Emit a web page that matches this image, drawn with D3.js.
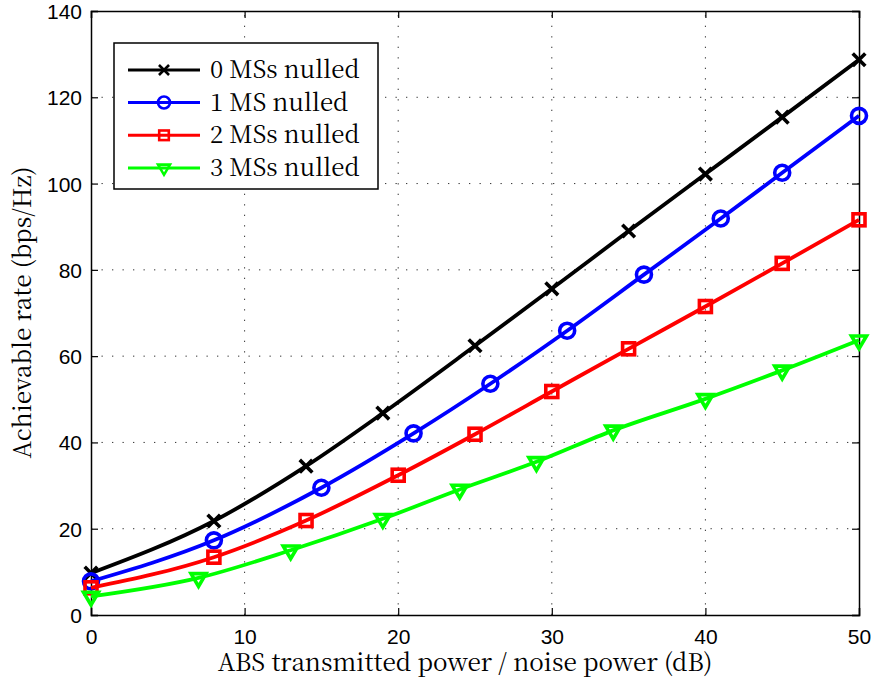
<!DOCTYPE html>
<html><head><meta charset="utf-8">
<script src="https://cdn.jsdelivr.net/npm/d3@7"></script>
<style>body{margin:0;background:#fff}</style>
</head><body>
<svg id="c" width="874" height="681"></svg>
<script>
const xTicks = [0, 10, 20, 30, 40, 50];
const yTicks = [0, 20, 40, 60, 80, 100, 120, 140];
const seriesNames = ["0 MSs nulled", "1 MS nulled", "2 MSs nulled", "3 MSs nulled"];
const seriesColors = ["#000000", "#0000ff", "#ff0000", "#00ff00"];
const seriesMarkers = ["x", "circle", "square", "triangle"];
const x0 = [0, 8, 14, 19, 25, 30, 35, 40, 45, 50];
const y0 = [9.7, 21.8, 34.5, 46.8, 62.4, 75.6, 89.0, 102.2, 115.4, 128.7];
const x1 = [0, 8, 15, 21, 26, 31, 36, 41, 45, 50];
const y1 = [7.8, 17.3, 29.5, 42.1, 53.6, 65.9, 78.9, 91.9, 102.5, 115.7];
const x2 = [0, 8, 14, 20, 25, 30, 35, 40, 45, 50];
const y2 = [6.3, 13.4, 21.9, 32.4, 41.9, 51.8, 61.7, 71.5, 81.5, 91.6];
const x3 = [0, 7, 13, 19, 24, 29, 34, 40, 45, 50];
const y3 = [4.3, 8.6, 15.0, 22.3, 29.1, 35.5, 42.8, 50.1, 56.7, 63.7];
const xLabel = "ABS transmitted power / noise power (dB)";
const yLabel = "Achievable rate (bps/Hz)";

const seriesX = [x0, x1, x2, x3];
const seriesY = [y0, y1, y2, y3];

const SERIF = '"Noto Serif CJK SC", "Liberation Serif", serif';
const SANS = '"Liberation Sans", Arial, sans-serif';

const svg = d3.select("#c");
const L = 91, R = 859, T = 11, B = 615;
const x = d3.scaleLinear().domain([0, 50]).range([L, R]);
const y = d3.scaleLinear().domain([0, 140]).range([B, T]);

// grid
const grid = svg.append("g");
grid.selectAll("line.gx").data(xTicks.filter(d => d > 0 && d < 50)).enter().append("line")
  .attr("x1", d => x(d)).attr("x2", d => x(d)).attr("y1", B).attr("y2", T)
  .attr("stroke", "#333").attr("stroke-width", 1).attr("stroke-dasharray", "1.3,9.2");
grid.selectAll("line.gy").data(yTicks.filter(d => d > 0 && d < 140)).enter().append("line")
  .attr("y1", d => y(d)).attr("y2", d => y(d)).attr("x1", L).attr("x2", R)
  .attr("stroke", "#333").attr("stroke-width", 1).attr("stroke-dasharray", "1.3,9.2");

// axes
const tickLen = 7;
const gxB = svg.append("g").attr("transform", `translate(0,${B})`)
  .call(d3.axisBottom(x).tickValues(xTicks).tickSize(-tickLen).tickPadding(15).tickFormat(d3.format("d")));
const gxT = svg.append("g").attr("transform", `translate(0,${T})`)
  .call(d3.axisTop(x).tickValues(xTicks).tickSize(-tickLen).tickFormat(""));
const gyL = svg.append("g").attr("transform", `translate(${L},0)`)
  .call(d3.axisLeft(y).tickValues(yTicks).tickSize(-tickLen).tickPadding(9).tickFormat(d3.format("d")));
const gyR = svg.append("g").attr("transform", `translate(${R},0)`)
  .call(d3.axisRight(y).tickValues(yTicks).tickSize(-tickLen).tickFormat(""));
[gxB, gxT, gyL, gyR].forEach(g => {
  g.select(".domain").attr("stroke", "#000").attr("stroke-width", 1.5);
  g.selectAll(".tick line").attr("stroke", "#000").attr("stroke-width", 1.2);
  g.selectAll("text").style("font-family", SANS).style("font-size", "21px").attr("fill", "#000");
});
gyL.selectAll(".tick text").attr("dy", "0.36em");
gxB.selectAll(".tick text").attr("dy", "0.68em");

// lines
const line = d3.line().x(d => x(d[0])).y(d => y(d[1])).curve(d3.curveMonotoneX);

function marker(g, type, color, size, sw) {
  if (type === "x") {
    const s = size * 0.42;
    g.append("path").attr("d", `M${-s},${-s}L${s},${s}M${-s},${s}L${s},${-s}`)
      .attr("stroke", color).attr("stroke-width", sw).attr("fill", "none");
  } else if (type === "circle") {
    g.append("circle").attr("r", size * 0.5).attr("stroke", color).attr("stroke-width", sw).attr("fill", "none");
  } else if (type === "square") {
    const s = size * 0.4;
    g.append("rect").attr("x", -s).attr("y", -s).attr("width", 2 * s).attr("height", 2 * s)
      .attr("stroke", color).attr("stroke-width", sw).attr("fill", "none");
  } else {
    const w = size * 0.5, h = size * 0.85;
    g.append("path").attr("d", `M${-w},${-h / 3}L${w},${-h / 3}L0,${2 * h / 3}Z`)
      .attr("stroke", color).attr("stroke-width", sw).attr("fill", "none").attr("stroke-linejoin", "miter");
  }
}

const plot = svg.append("g");
seriesX.forEach((xs, i) => {
  const pts = xs.map((v, j) => [v, seriesY[i][j]]);
  plot.append("path").datum(pts).attr("d", line)
    .attr("fill", "none").attr("stroke", seriesColors[i]).attr("stroke-width", 3.8);
  pts.forEach(p => {
    const g = plot.append("g").attr("transform", `translate(${x(p[0])},${y(p[1])})`);
    marker(g, seriesMarkers[i], seriesColors[i], 15, 3.6);
  });
});

// legend
const leg = svg.append("g");
leg.append("rect").attr("x", 114).attr("y", 43).attr("width", 264).attr("height", 146)
  .attr("fill", "#fff").attr("stroke", "#000").attr("stroke-width", 1.5);
const rowY = [70, 102.5, 135.3, 168];
seriesNames.forEach((name, i) => {
  const ry = rowY[i];
  leg.append("line").attr("x1", 128).attr("x2", 200).attr("y1", ry).attr("y2", ry)
    .attr("stroke", seriesColors[i]).attr("stroke-width", 3);
  const g = leg.append("g").attr("transform", `translate(164,${ry})`);
  marker(g, seriesMarkers[i], seriesColors[i], 12, 2.6);
  leg.append("text").attr("x", 210).attr("y", ry + 8).text(name)
    .style("font-family", SERIF).style("font-size", "24px").attr("fill", "#000");
});

// axis titles
svg.append("text").attr("x", 465).attr("y", 671).attr("text-anchor", "middle").text(xLabel)
  .style("font-family", SERIF).style("font-size", "24.4px").attr("fill", "#000");
svg.append("text").attr("transform", "translate(31,312.5) rotate(-90)").attr("text-anchor", "middle").text(yLabel)
  .style("font-family", SERIF).style("font-size", "24.4px").attr("fill", "#000");
</script>
</body></html>
